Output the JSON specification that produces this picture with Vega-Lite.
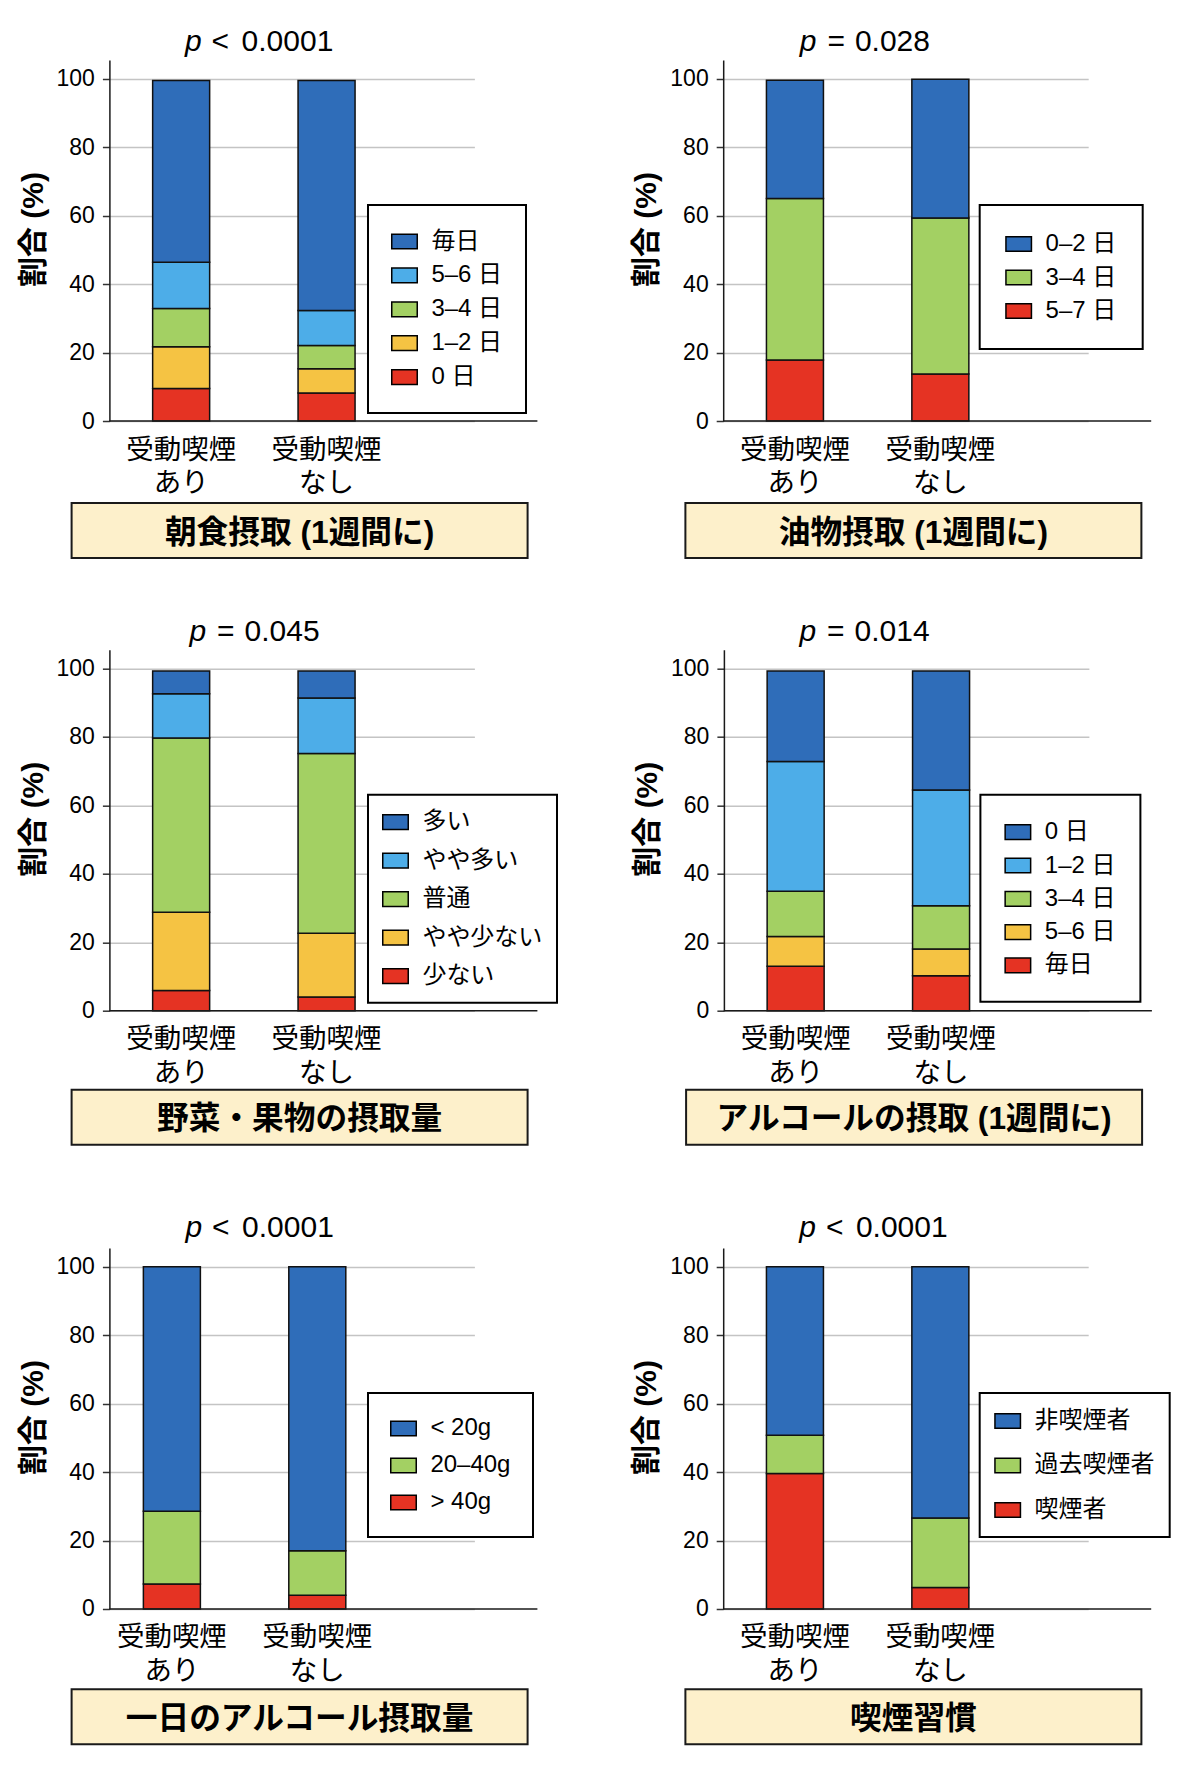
{
  "$schema": "https://vega.github.io/schema/vega-lite/v6.json",
  "background": "white",
  "padding": {"left": 17.6, "top": 27, "right": 0, "bottom": 0},
  "config": {
    "font": "'Liberation Sans', 'Noto Sans CJK JP', sans-serif",
    "view": {"stroke": null},
    "axisX": {"title": null, "labelAngle": 0, "ticks": false, "tickSize": 0, "labelPadding": 15, "labelFontSize": 27.5, "labelLineHeight": 34, "labelColor": "black", "domain": false, "grid": false},
    "axisY": {"titleFontSize": 30, "titleFontWeight": "bold", "titleColor": "black", "titlePadding": 8, "titleY": 169, "labelFontSize": 23, "labelColor": "black", "labelPadding": 8, "tickSize": 7, "tickColor": "#333333", "tickWidth": 1.5, "domainColor": "#1a1a1a", "domainWidth": 1.5, "grid": true, "gridColor": "#C4C4C4", "gridWidth": 1.5},
    "legend": {"fillColor": "white", "strokeColor": "black", "strokeWidth": 2, "labelFontSize": 24, "labelColor": "black", "labelOffset": 13.4, "symbolType": "M-1,-0.577L1,-0.577L1,0.577L-1,0.577Z", "symbolSize": 650, "symbolStrokeColor": "black", "symbolStrokeWidth": 1.5, "symbolOpacity": 1},
    "bar": {"stroke": "#111111", "strokeWidth": 1.5},
    "rule": {"color": "#1a1a1a", "strokeWidth": 1.5},
    "text": {"color": "black"}
  },
  "datasets": {
    "d1": [
      {"g": "受動喫煙 あり", "cat": "0 日", "k": 1, "pct": 9.5},
      {"g": "受動喫煙 あり", "cat": "1–2 日", "k": 2, "pct": 12.2},
      {"g": "受動喫煙 あり", "cat": "3–4 日", "k": 3, "pct": 11.2},
      {"g": "受動喫煙 あり", "cat": "5–6 日", "k": 4, "pct": 13.5},
      {"g": "受動喫煙 あり", "cat": "毎日", "k": 5, "pct": 53.1},
      {"g": "受動喫煙 なし", "cat": "0 日", "k": 1, "pct": 8.2},
      {"g": "受動喫煙 なし", "cat": "1–2 日", "k": 2, "pct": 7.1},
      {"g": "受動喫煙 なし", "cat": "3–4 日", "k": 3, "pct": 6.8},
      {"g": "受動喫煙 なし", "cat": "5–6 日", "k": 4, "pct": 10.2},
      {"g": "受動喫煙 なし", "cat": "毎日", "k": 5, "pct": 67.2}
    ],
    "d2": [
      {"g": "受動喫煙 あり", "cat": "5–7 日", "k": 1, "pct": 17.8},
      {"g": "受動喫煙 あり", "cat": "3–4 日", "k": 2, "pct": 47.2},
      {"g": "受動喫煙 あり", "cat": "0–2 日", "k": 3, "pct": 34.6},
      {"g": "受動喫煙 なし", "cat": "5–7 日", "k": 1, "pct": 13.7},
      {"g": "受動喫煙 なし", "cat": "3–4 日", "k": 2, "pct": 45.6},
      {"g": "受動喫煙 なし", "cat": "0–2 日", "k": 3, "pct": 40.6}
    ],
    "d3": [
      {"g": "受動喫煙 あり", "cat": "少ない", "k": 1, "pct": 5.9},
      {"g": "受動喫煙 あり", "cat": "やや少ない", "k": 2, "pct": 22.9},
      {"g": "受動喫煙 あり", "cat": "普通", "k": 3, "pct": 50.9},
      {"g": "受動喫煙 あり", "cat": "やや多い", "k": 4, "pct": 12.9},
      {"g": "受動喫煙 あり", "cat": "多い", "k": 5, "pct": 6.7},
      {"g": "受動喫煙 なし", "cat": "少ない", "k": 1, "pct": 4.0},
      {"g": "受動喫煙 なし", "cat": "やや少ない", "k": 2, "pct": 18.6},
      {"g": "受動喫煙 なし", "cat": "普通", "k": 3, "pct": 52.6},
      {"g": "受動喫煙 なし", "cat": "やや多い", "k": 4, "pct": 16.2},
      {"g": "受動喫煙 なし", "cat": "多い", "k": 5, "pct": 7.9}
    ],
    "d4": [
      {"g": "受動喫煙 あり", "cat": "毎日", "k": 1, "pct": 13.0},
      {"g": "受動喫煙 あり", "cat": "5–6 日", "k": 2, "pct": 8.7},
      {"g": "受動喫煙 あり", "cat": "3–4 日", "k": 3, "pct": 13.2},
      {"g": "受動喫煙 あり", "cat": "1–2 日", "k": 4, "pct": 37.9},
      {"g": "受動喫煙 あり", "cat": "0 日", "k": 5, "pct": 26.5},
      {"g": "受動喫煙 なし", "cat": "毎日", "k": 1, "pct": 10.2},
      {"g": "受動喫煙 なし", "cat": "5–6 日", "k": 2, "pct": 7.8},
      {"g": "受動喫煙 なし", "cat": "3–4 日", "k": 3, "pct": 12.7},
      {"g": "受動喫煙 なし", "cat": "1–2 日", "k": 4, "pct": 33.8},
      {"g": "受動喫煙 なし", "cat": "0 日", "k": 5, "pct": 34.8}
    ],
    "d5": [
      {"g": "受動喫煙 あり", "cat": "> 40g", "k": 1, "pct": 7.3},
      {"g": "受動喫煙 あり", "cat": "20–40g", "k": 2, "pct": 21.3},
      {"g": "受動喫煙 あり", "cat": "< 20g", "k": 3, "pct": 71.4},
      {"g": "受動喫煙 なし", "cat": "> 40g", "k": 1, "pct": 4.0},
      {"g": "受動喫煙 なし", "cat": "20–40g", "k": 2, "pct": 13.0},
      {"g": "受動喫煙 なし", "cat": "< 20g", "k": 3, "pct": 83.0}
    ],
    "d6": [
      {"g": "受動喫煙 あり", "cat": "喫煙者", "k": 1, "pct": 39.6},
      {"g": "受動喫煙 あり", "cat": "過去喫煙者", "k": 2, "pct": 11.2},
      {"g": "受動喫煙 あり", "cat": "非喫煙者", "k": 3, "pct": 49.2},
      {"g": "受動喫煙 なし", "cat": "喫煙者", "k": 1, "pct": 6.3},
      {"g": "受動喫煙 なし", "cat": "過去喫煙者", "k": 2, "pct": 20.3},
      {"g": "受動喫煙 なし", "cat": "非喫煙者", "k": 3, "pct": 73.4}
    ]
  },
  "resolve": {"scale": {"color": "independent"}, "legend": {"color": "independent"}},
  "spacing": 57.7,
  "vconcat": [
    {
      "resolve": {"scale": {"color": "independent"}, "legend": {"color": "independent"}},
      "spacing": 92.8,
      "hconcat": [
        {
          "resolve": {"scale": {"color": "independent"}, "legend": {"color": "independent"}},
          "spacing": 4,
          "vconcat": [
            {
              "resolve": {"scale": {"color": "independent"}, "legend": {"color": "independent"}},
              "spacing": -3,
              "vconcat": [
                {"width": 260, "height": 30, "data": {"values": [{"p": "p", "op": "<", "v": "0.0001"}]},
                 "layer": [
                   {"mark": {"type": "text", "fontSize": 30, "fontStyle": "italic", "align": "right", "baseline": "middle"}, "encoding": {"text": {"field": "p"}}},
                   {"mark": {"type": "text", "fontSize": 30, "align": "left", "baseline": "middle", "dx": 10}, "encoding": {"text": {"field": "op"}}},
                   {"mark": {"type": "text", "fontSize": 30, "align": "left", "baseline": "middle", "dx": 40}, "encoding": {"text": {"field": "v"}}}
                 ]},
                {
                  "resolve": {"scale": {"color": "independent"}, "legend": {"color": "independent"}},
                  "spacing": -55.2,
                  "hconcat": [
                    {"width": 1, "height": 1, "data": {"values": [{"t": ""}]}, "mark": "text", "encoding": {"text": {"field": "t"}}},
                    {
                      "width": 428, "height": 361,
                      "layer": [
                        {
                          "data": {"name": "d1"},
                          "mark": {"type": "bar"},
                          "encoding": {
                            "x": {"field": "g", "type": "nominal", "sort": ["受動喫煙 あり", "受動喫煙 なし"], "scale": {"range": [0, 365], "paddingInner": 0.608, "paddingOuter": 0.559, "align": 0.266}, "axis": {"labelExpr": "split(datum.label, ' ')"}},
                            "y": {"field": "pct", "type": "quantitative", "stack": "zero", "scale": {"domain": [0, 105.5], "nice": false}, "axis": {"title": "割合 (%)", "values": [0, 20, 40, 60, 80, 100]}},
                            "color": {"field": "cat", "type": "nominal", "scale": {"domain": ["毎日", "5–6 日", "3–4 日", "1–2 日", "0 日"], "range": ["#2F6DB9", "#4DADE8", "#A3D063", "#F5C343", "#E53323"]},
                                      "legend": {"title": null, "orient": "none", "legendX": 258.6, "legendY": 145, "padding": 23, "rowPadding": 7.9}},
                            "order": {"field": "k", "type": "quantitative"}
                          }
                        },
                        {"data": {"values": [{}]}, "mark": {"type": "rule"}, "encoding": {"y": {"datum": 0}}}
                      ]
                    }
                  ]
                }
              ]
            },
            {"width": 456, "height": 55, "view": {"fill": "#FDF0CB", "stroke": "#1a1a1a", "strokeWidth": 2},
             "data": {"values": [{"t": "朝食摂取 (1週間に)"}]},
             "mark": {"type": "text", "fontSize": 31.7, "fontWeight": "bold", "align": "center", "baseline": "middle", "dy": 2},
             "encoding": {"text": {"field": "t"}}}
          ]
        },
        {
          "resolve": {"scale": {"color": "independent"}, "legend": {"color": "independent"}},
          "spacing": 4,
          "vconcat": [
            {
              "resolve": {"scale": {"color": "independent"}, "legend": {"color": "independent"}},
              "spacing": -3,
              "vconcat": [
                {"width": 262, "height": 30, "data": {"values": [{"p": "p", "op": "=", "v": "0.028"}]},
                 "layer": [
                   {"mark": {"type": "text", "fontSize": 30, "fontStyle": "italic", "align": "right", "baseline": "middle"}, "encoding": {"text": {"field": "p"}}},
                   {"mark": {"type": "text", "fontSize": 30, "align": "left", "baseline": "middle", "dx": 11}, "encoding": {"text": {"field": "op"}}},
                   {"mark": {"type": "text", "fontSize": 30, "align": "left", "baseline": "middle", "dx": 38.5}, "encoding": {"text": {"field": "v"}}}
                 ]},
                {
                  "resolve": {"scale": {"color": "independent"}, "legend": {"color": "independent"}},
                  "spacing": -55.2,
                  "hconcat": [
                    {"width": 1, "height": 1, "data": {"values": [{"t": ""}]}, "mark": "text", "encoding": {"text": {"field": "t"}}},
                    {
                      "width": 428, "height": 361,
                      "layer": [
                        {
                          "data": {"name": "d2"},
                          "mark": {"type": "bar"},
                          "encoding": {
                            "x": {"field": "g", "type": "nominal", "sort": ["受動喫煙 あり", "受動喫煙 なし"], "scale": {"range": [0, 365], "paddingInner": 0.608, "paddingOuter": 0.559, "align": 0.266}, "axis": {"labelExpr": "split(datum.label, ' ')"}},
                            "y": {"field": "pct", "type": "quantitative", "stack": "zero", "scale": {"domain": [0, 105.5], "nice": false}, "axis": {"title": "割合 (%)", "values": [0, 20, 40, 60, 80, 100]}},
                            "color": {"field": "cat", "type": "nominal", "scale": {"domain": ["0–2 日", "3–4 日", "5–7 日"], "range": ["#2F6DB9", "#A3D063", "#E53323"]},
                                      "legend": {"title": null, "orient": "none", "legendX": 256.5, "legendY": 145, "padding": 25.5, "rowPadding": 7.5}},
                            "order": {"field": "k", "type": "quantitative"}
                          }
                        },
                        {"data": {"values": [{}]}, "mark": {"type": "rule"}, "encoding": {"y": {"datum": 0}}}
                      ]
                    }
                  ]
                }
              ]
            },
            {"width": 456, "height": 55, "view": {"fill": "#FDF0CB", "stroke": "#1a1a1a", "strokeWidth": 2},
             "data": {"values": [{"t": "油物摂取 (1週間に)"}]},
             "mark": {"type": "text", "fontSize": 31.7, "fontWeight": "bold", "align": "center", "baseline": "middle", "dy": 2},
             "encoding": {"text": {"field": "t"}}}
          ]
        }
      ]
    },
    {
      "resolve": {"scale": {"color": "independent"}, "legend": {"color": "independent"}},
      "spacing": 67,
      "vconcat": [
        {
          "resolve": {"scale": {"color": "independent"}, "legend": {"color": "independent"}},
          "spacing": 73.5,
          "hconcat": [
            {
              "resolve": {"scale": {"color": "independent"}, "legend": {"color": "independent"}},
              "spacing": 1,
              "vconcat": [
                {
                  "resolve": {"scale": {"color": "independent"}, "legend": {"color": "independent"}},
                  "spacing": -3,
                  "vconcat": [
                    {"width": 269, "height": 30, "data": {"values": [{"p": "p", "op": "=", "v": "0.045"}]},
                     "layer": [
                       {"mark": {"type": "text", "fontSize": 30, "fontStyle": "italic", "align": "right", "baseline": "middle"}, "encoding": {"text": {"field": "p"}}},
                       {"mark": {"type": "text", "fontSize": 30, "align": "left", "baseline": "middle", "dx": 11}, "encoding": {"text": {"field": "op"}}},
                       {"mark": {"type": "text", "fontSize": 30, "align": "left", "baseline": "middle", "dx": 38.5}, "encoding": {"text": {"field": "v"}}}
                     ]},
                    {
                      "resolve": {"scale": {"color": "independent"}, "legend": {"color": "independent"}},
                      "spacing": -55.2,
                      "hconcat": [
                        {"width": 1, "height": 1, "data": {"values": [{"t": ""}]}, "mark": "text", "encoding": {"text": {"field": "t"}}},
                        {
                          "width": 428, "height": 361,
                          "layer": [
                            {
                              "data": {"name": "d3"},
                              "mark": {"type": "bar"},
                              "encoding": {
                                "x": {"field": "g", "type": "nominal", "sort": ["受動喫煙 あり", "受動喫煙 なし"], "scale": {"range": [0, 365], "paddingInner": 0.608, "paddingOuter": 0.559, "align": 0.266}, "axis": {"labelExpr": "split(datum.label, ' ')"}},
                                "y": {"field": "pct", "type": "quantitative", "stack": "zero", "scale": {"domain": [0, 105.5], "nice": false}, "axis": {"title": "割合 (%)", "values": [0, 20, 40, 60, 80, 100]}},
                                "color": {"field": "cat", "type": "nominal", "scale": {"domain": ["多い", "やや多い", "普通", "やや少ない", "少ない"], "range": ["#2F6DB9", "#4DADE8", "#A3D063", "#F5C343", "#E53323"]},
                                          "legend": {"title": null, "orient": "none", "legendX": 258.6, "legendY": 145, "padding": 14, "rowPadding": 12.5}},
                                "order": {"field": "k", "type": "quantitative"}
                              }
                            },
                            {"data": {"values": [{}]}, "mark": {"type": "rule"}, "encoding": {"y": {"datum": 0}}}
                          ]
                        }
                      ]
                    }
                  ]
                },
                {"width": 456, "height": 55, "view": {"fill": "#FDF0CB", "stroke": "#1a1a1a", "strokeWidth": 2},
                 "data": {"values": [{"t": "野菜・果物の摂取量"}]},
                 "mark": {"type": "text", "fontSize": 31.7, "fontWeight": "bold", "align": "center", "baseline": "middle", "dy": 2},
                 "encoding": {"text": {"field": "t"}}}
              ]
            },
            {
              "resolve": {"scale": {"color": "independent"}, "legend": {"color": "independent"}},
              "spacing": 1,
              "vconcat": [
                {
                  "resolve": {"scale": {"color": "independent"}, "legend": {"color": "independent"}},
                  "spacing": -3,
                  "vconcat": [
                    {"width": 260, "height": 30, "data": {"values": [{"p": "p", "op": "=", "v": "0.014"}]},
                     "layer": [
                       {"mark": {"type": "text", "fontSize": 30, "fontStyle": "italic", "align": "right", "baseline": "middle"}, "encoding": {"text": {"field": "p"}}},
                       {"mark": {"type": "text", "fontSize": 30, "align": "left", "baseline": "middle", "dx": 11}, "encoding": {"text": {"field": "op"}}},
                       {"mark": {"type": "text", "fontSize": 30, "align": "left", "baseline": "middle", "dx": 38.5}, "encoding": {"text": {"field": "v"}}}
                     ]},
                    {
                      "resolve": {"scale": {"color": "independent"}, "legend": {"color": "independent"}},
                      "spacing": -55.2,
                      "hconcat": [
                        {"width": 1, "height": 1, "data": {"values": [{"t": ""}]}, "mark": "text", "encoding": {"text": {"field": "t"}}},
                        {
                          "width": 428, "height": 361,
                          "layer": [
                            {
                              "data": {"name": "d4"},
                              "mark": {"type": "bar"},
                              "encoding": {
                                "x": {"field": "g", "type": "nominal", "sort": ["受動喫煙 あり", "受動喫煙 なし"], "scale": {"range": [0, 365], "paddingInner": 0.608, "paddingOuter": 0.559, "align": 0.266}, "axis": {"labelExpr": "split(datum.label, ' ')"}},
                                "y": {"field": "pct", "type": "quantitative", "stack": "zero", "scale": {"domain": [0, 105.5], "nice": false}, "axis": {"title": "割合 (%)", "values": [0, 20, 40, 60, 80, 100]}},
                                "color": {"field": "cat", "type": "nominal", "scale": {"domain": ["0 日", "1–2 日", "3–4 日", "5–6 日", "毎日"], "range": ["#2F6DB9", "#4DADE8", "#A3D063", "#F5C343", "#E53323"]},
                                          "legend": {"title": null, "orient": "none", "legendX": 256.5, "legendY": 145, "padding": 24, "rowPadding": 7.3}},
                                "order": {"field": "k", "type": "quantitative"}
                              }
                            },
                            {"data": {"values": [{}]}, "mark": {"type": "rule"}, "encoding": {"y": {"datum": 0}}}
                          ]
                        }
                      ]
                    }
                  ]
                },
                {"width": 456, "height": 55, "view": {"fill": "#FDF0CB", "stroke": "#1a1a1a", "strokeWidth": 2},
                 "data": {"values": [{"t": "アルコールの摂取 (1週間に)"}]},
                 "mark": {"type": "text", "fontSize": 31.7, "fontWeight": "bold", "align": "center", "baseline": "middle", "dy": 2},
                 "encoding": {"text": {"field": "t"}}}
              ]
            }
          ]
        },
        {
          "resolve": {"scale": {"color": "independent"}, "legend": {"color": "independent"}},
          "spacing": 92.8,
          "hconcat": [
            {
              "resolve": {"scale": {"color": "independent"}, "legend": {"color": "independent"}},
              "spacing": 2.5,
              "vconcat": [
                {
                  "resolve": {"scale": {"color": "independent"}, "legend": {"color": "independent"}},
                  "spacing": -0.7,
                  "vconcat": [
                    {"width": 261, "height": 30, "data": {"values": [{"p": "p", "op": "<", "v": "0.0001"}]},
                     "layer": [
                       {"mark": {"type": "text", "fontSize": 30, "fontStyle": "italic", "align": "right", "baseline": "middle"}, "encoding": {"text": {"field": "p"}}},
                       {"mark": {"type": "text", "fontSize": 30, "align": "left", "baseline": "middle", "dx": 10}, "encoding": {"text": {"field": "op"}}},
                       {"mark": {"type": "text", "fontSize": 30, "align": "left", "baseline": "middle", "dx": 40}, "encoding": {"text": {"field": "v"}}}
                     ]},
                    {
                      "resolve": {"scale": {"color": "independent"}, "legend": {"color": "independent"}},
                      "spacing": -55.2,
                      "hconcat": [
                        {"width": 1, "height": 1, "data": {"values": [{"t": ""}]}, "mark": "text", "encoding": {"text": {"field": "t"}}},
                        {
                          "width": 428, "height": 361,
                          "layer": [
                            {
                              "data": {"name": "d5"},
                              "mark": {"type": "bar"},
                              "encoding": {
                                "x": {"field": "g", "type": "nominal", "sort": ["受動喫煙 あり", "受動喫煙 なし"], "scale": {"range": [0, 365], "paddingInner": 0.608, "paddingOuter": 0.559, "align": 0.209}, "axis": {"labelExpr": "split(datum.label, ' ')"}},
                                "y": {"field": "pct", "type": "quantitative", "stack": "zero", "scale": {"domain": [0, 105.5], "nice": false}, "axis": {"title": "割合 (%)", "values": [0, 20, 40, 60, 80, 100]}},
                                "color": {"field": "cat", "type": "nominal", "scale": {"domain": ["< 20g", "20–40g", "> 40g"], "range": ["#2F6DB9", "#A3D063", "#E53323"]},
                                          "legend": {"title": null, "orient": "none", "legendX": 258.6, "legendY": 145, "padding": 22, "rowPadding": 11}},
                                "order": {"field": "k", "type": "quantitative"}
                              }
                            },
                            {"data": {"values": [{}]}, "mark": {"type": "rule"}, "encoding": {"y": {"datum": 0}}}
                          ]
                        }
                      ]
                    }
                  ]
                },
                {"width": 456, "height": 55, "view": {"fill": "#FDF0CB", "stroke": "#1a1a1a", "strokeWidth": 2},
                 "data": {"values": [{"t": "一日のアルコール摂取量"}]},
                 "mark": {"type": "text", "fontSize": 31.7, "fontWeight": "bold", "align": "center", "baseline": "middle", "dy": 2},
                 "encoding": {"text": {"field": "t"}}}
              ]
            },
            {
              "resolve": {"scale": {"color": "independent"}, "legend": {"color": "independent"}},
              "spacing": 2.5,
              "vconcat": [
                {
                  "resolve": {"scale": {"color": "independent"}, "legend": {"color": "independent"}},
                  "spacing": -0.7,
                  "vconcat": [
                    {"width": 261, "height": 30, "data": {"values": [{"p": "p", "op": "<", "v": "0.0001"}]},
                     "layer": [
                       {"mark": {"type": "text", "fontSize": 30, "fontStyle": "italic", "align": "right", "baseline": "middle"}, "encoding": {"text": {"field": "p"}}},
                       {"mark": {"type": "text", "fontSize": 30, "align": "left", "baseline": "middle", "dx": 10}, "encoding": {"text": {"field": "op"}}},
                       {"mark": {"type": "text", "fontSize": 30, "align": "left", "baseline": "middle", "dx": 40}, "encoding": {"text": {"field": "v"}}}
                     ]},
                    {
                      "resolve": {"scale": {"color": "independent"}, "legend": {"color": "independent"}},
                      "spacing": -55.2,
                      "hconcat": [
                        {"width": 1, "height": 1, "data": {"values": [{"t": ""}]}, "mark": "text", "encoding": {"text": {"field": "t"}}},
                        {
                          "width": 428, "height": 361,
                          "layer": [
                            {
                              "data": {"name": "d6"},
                              "mark": {"type": "bar"},
                              "encoding": {
                                "x": {"field": "g", "type": "nominal", "sort": ["受動喫煙 あり", "受動喫煙 なし"], "scale": {"range": [0, 365], "paddingInner": 0.608, "paddingOuter": 0.559, "align": 0.266}, "axis": {"labelExpr": "split(datum.label, ' ')"}},
                                "y": {"field": "pct", "type": "quantitative", "stack": "zero", "scale": {"domain": [0, 105.5], "nice": false}, "axis": {"title": "割合 (%)", "values": [0, 20, 40, 60, 80, 100]}},
                                "color": {"field": "cat", "type": "nominal", "scale": {"domain": ["非喫煙者", "過去喫煙者", "喫煙者"], "range": ["#2F6DB9", "#A3D063", "#E53323"]},
                                          "legend": {"title": null, "orient": "none", "legendX": 256.5, "legendY": 145, "padding": 14.5, "rowPadding": 18.5}},
                                "order": {"field": "k", "type": "quantitative"}
                              }
                            },
                            {"data": {"values": [{}]}, "mark": {"type": "rule"}, "encoding": {"y": {"datum": 0}}}
                          ]
                        }
                      ]
                    }
                  ]
                },
                {"width": 456, "height": 55, "view": {"fill": "#FDF0CB", "stroke": "#1a1a1a", "strokeWidth": 2},
                 "data": {"values": [{"t": "喫煙習慣"}]},
                 "mark": {"type": "text", "fontSize": 31.7, "fontWeight": "bold", "align": "center", "baseline": "middle", "dy": 2},
                 "encoding": {"text": {"field": "t"}}}
              ]
            }
          ]
        }
      ]
    }
  ]
}
